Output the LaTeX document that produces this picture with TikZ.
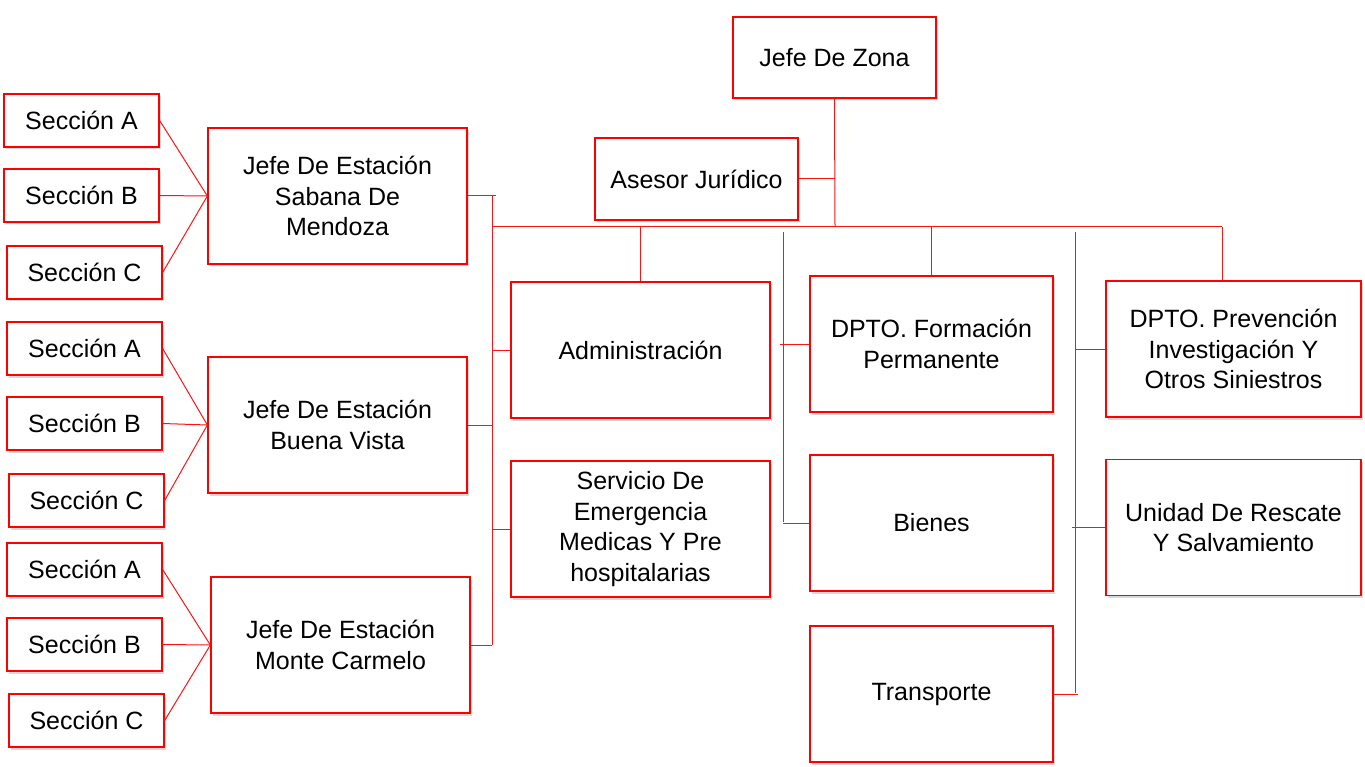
\documentclass[tikz,border=0pt]{standalone}
\usepackage{fontspec}
\setmainfont{Liberation Sans}
\usepackage{xcolor}
\definecolor{boxred}{RGB}{255, 0, 0}
\definecolor{linkred}{RGB}{250, 20, 20}
\usepackage{tikz}
\usetikzlibrary{calc, shadows}

\tikzset{
  box/.style={draw=boxred, line width=1.3pt, fill=white, align=center, inner sep=0pt,
    font=\fontsize{25}{30.5}\selectfont,
    drop shadow={shadow xshift=2pt, shadow yshift=-2.5pt, opacity=0.25, fill=black!60}},
  seccion/.style={box, minimum width=155, minimum height=53},
  jefe/.style={box, minimum width=259, minimum height=136},
  dpto/.style={box, minimum width=243, minimum height=136},
  dptor/.style={box, minimum width=255, minimum height=136},
  link/.style={draw=linkred, line width=1pt}
}

\begin{document}
\begin{tikzpicture}[x=1pt, y=-1pt]
  \useasboundingbox (0,0) rectangle (1365,767);

  \node[box, minimum width=203, minimum height=81] (zona) at (834.5,57.5) {Jefe De Zona};
  \node[box, minimum width=203, minimum height=82] (asesor) at (696.5,179) {Asesor Jurídico};

  \node[jefe] (sabana) at (337.5,196) {Jefe De Estación\\Sabana De\\Mendoza};
  \node[jefe] (buena) at (337.5,425) {Jefe De Estación\\Buena Vista};
  \node[jefe] (monte) at (340.5,645) {Jefe De Estación\\Monte Carmelo};

  \node[seccion] (secA1) at (81.5,120.5) {Sección A};
  \node[seccion] (secB1) at (81.5,195.5) {Sección B};
  \node[seccion] (secC1) at (84.5,272.5) {Sección C};
  \node[seccion] (secA2) at (84.5,348.5) {Sección A};
  \node[seccion] (secB2) at (84.5,423.5) {Sección B};
  \node[seccion] (secC2) at (86.5,500.5) {Sección C};
  \node[seccion] (secA3) at (84.5,569.5) {Sección A};
  \node[seccion] (secB3) at (84.5,644.5) {Sección B};
  \node[seccion] (secC3) at (86.5,720.5) {Sección C};

  \node[jefe] (admin) at (640.5,350) {Administración};
  \node[jefe] (servicio) at (640.5,529) {Servicio De\\Emergencia\\Medicas Y Pre\\hospitalarias};

  \node[dpto] (formacion) at (931.5,344) {DPTO. Formación\\Permanente};
  \node[dpto] (bienes) at (931.5,523) {Bienes};
  \node[dpto] (transporte) at (931.5,694) {Transporte};

  \node[dptor] (prevencion) at (1233.5,349) {DPTO. Prevención\\Investigación Y\\Otros Siniestros};
  \node[dptor] (rescate) at (1233.5,527.5) {Unidad De Rescate\\Y Salvamiento};

  \coordinate (hub) at (835,227);
  \coordinate (hubL) at (492,227);
  \coordinate (hubR) at (1222,227);
  \coordinate (busLt) at (492,195);
  \coordinate (busLb) at (492,645);
  \coordinate (busMt) at (783,232);
  \coordinate (busMb) at (783,522);
  \coordinate (busRt) at (1075,232);
  \coordinate (busRb) at (1075,693);

  \draw[link] (zona.south) -- (hub);
  \draw[link] (asesor.east) -- (asesor.east -| hub);
  \draw[link] (hubL) -- (hubR);
  \draw[link] (hubR) -- (hubR |- prevencion.north);
  \draw[link] (admin.north) -- (admin.north |- hub);
  \draw[link] (formacion.north) -- (formacion.north |- hub);

  \foreach \s in {A,B,C} {
    \draw[link] (sec\s1.east) -- (sabana.west);
    \draw[link] (sec\s2.east) -- (buena.west);
    \draw[link] (sec\s3.east) -- (monte.west);
  }

  \draw[link] (busLt) -- (busLb);
  \draw[link] (sabana.east) -- ($(sabana.east -| busLt)+(4,0)$);
  \draw[link] (buena.east) -- (buena.east -| busLt);
  \draw[link] (monte.east) -- (monte.east -| busLt);
  \draw[link] (admin.west) -- (admin.west -| busLt);
  \draw[link] (servicio.west) -- (servicio.west -| busLt);

  \draw[link] (busMt) -- (busMb);
  \draw[link] (formacion.west) -- ($(formacion.west -| busMt)+(-3,0)$);
  \draw[link] (bienes.west) -- (bienes.west -| busMt);

  \draw[link] (busRt) -- (busRb);
  \draw[link] (prevencion.west) -- (prevencion.west -| busRt);
  \draw[link] (rescate.west) -- ($(rescate.west -| busRt)+(-3,0)$);
  \draw[link] (transporte.east) -- ($(transporte.east -| busRt)+(3,0)$);
\end{tikzpicture}
\end{document}
